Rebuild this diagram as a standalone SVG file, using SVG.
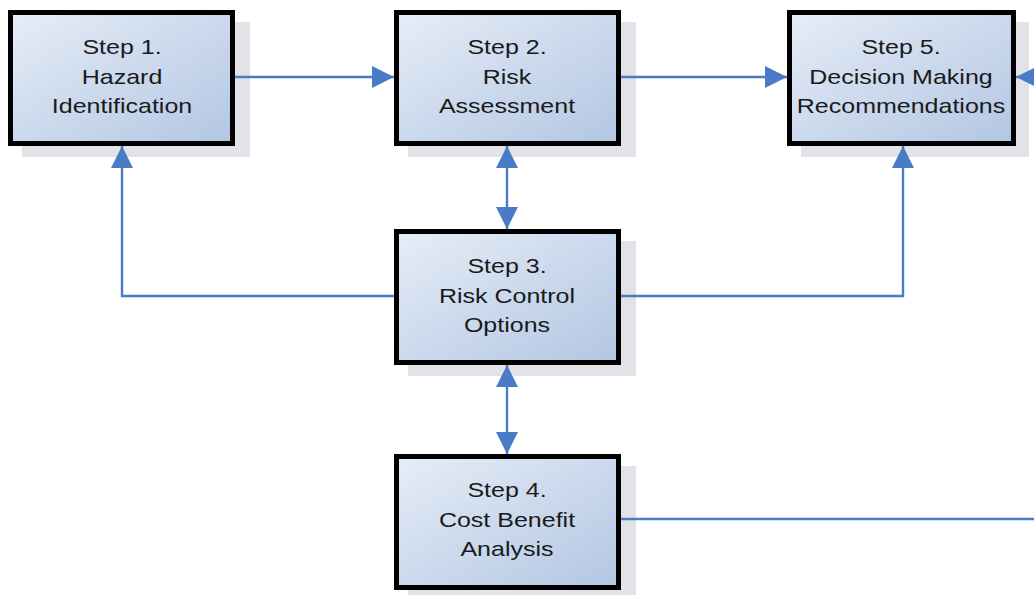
<svg xmlns="http://www.w3.org/2000/svg" width="1034" height="595" viewBox="0 0 1034 595">
<defs>
<linearGradient id="fill" x1="0" y1="0" x2="1" y2="1">
<stop offset="0" stop-color="#e6edf7"/>
<stop offset="1" stop-color="#b2c6e3"/>
</linearGradient>
<marker id="ah" markerUnits="userSpaceOnUse" markerWidth="22" markerHeight="22" refX="22" refY="11" orient="auto-start-reverse" viewBox="0 0 22 22">
<path d="M0,0 L22,11 L0,22 z" fill="#4a7bc6"/>
</marker>
</defs>
<style>
.shadow{fill:#e1e3e8}
.box{fill:url(#fill);stroke:#000;stroke-width:5}
.lbl{font-family:"Liberation Sans",Arial,sans-serif;font-size:20.5px;fill:#1a1a1a;text-anchor:middle}
.con{fill:none;stroke:#4a7bc6;stroke-width:2.4}
</style>
<rect width="1034" height="595" fill="#fff"/>
<g id="step1">
<rect class="shadow" x="22" y="22" width="228" height="135"/>
<rect class="box" x="10.5" y="12.5" width="222" height="131"/>
<g transform="translate(122 0) scale(1.22 1)">
<text class="lbl" x="0" y="54.5">Step 1.</text>
<text class="lbl" x="0" y="84">Hazard</text>
<text class="lbl" x="0" y="113">Identification</text>
</g>
</g>
<g id="step2">
<rect class="shadow" x="408" y="22" width="228" height="135"/>
<rect class="box" x="396.5" y="12.5" width="222" height="131"/>
<g transform="translate(507 0) scale(1.22 1)">
<text class="lbl" x="0" y="54.5">Step 2.</text>
<text class="lbl" x="0" y="84">Risk</text>
<text class="lbl" x="0" y="113">Assessment</text>
</g>
</g>
<g id="step5">
<rect class="shadow" x="801" y="22" width="228" height="135"/>
<rect class="box" x="789.5" y="12.5" width="224" height="131"/>
<g transform="translate(901 0) scale(1.22 1)">
<text class="lbl" x="0" y="54.5">Step 5.</text>
<text class="lbl" x="0" y="84">Decision Making</text>
<text class="lbl" x="0" y="113">Recommendations</text>
</g>
</g>
<g id="step3">
<rect class="shadow" x="408" y="241" width="228" height="135"/>
<rect class="box" x="396.5" y="231.5" width="222" height="131"/>
<g transform="translate(507 0) scale(1.22 1)">
<text class="lbl" x="0" y="273.5">Step 3.</text>
<text class="lbl" x="0" y="303">Risk Control</text>
<text class="lbl" x="0" y="332">Options</text>
</g>
</g>
<g id="step4">
<rect class="shadow" x="408" y="466" width="228" height="135"/>
<rect class="box" x="396.5" y="456.5" width="222" height="131"/>
<g transform="translate(507 0) scale(1.22 1)">
<text class="lbl" x="0" y="497.5">Step 4.</text>
<text class="lbl" x="0" y="527">Cost Benefit</text>
<text class="lbl" x="0" y="556">Analysis</text>
</g>
</g>
<g id="connectors">
<line class="con" x1="235" y1="77" x2="394" y2="77" marker-end="url(#ah)"/>
<line class="con" x1="621" y1="77" x2="787" y2="77" marker-end="url(#ah)"/>
<line class="con" x1="1040" y1="77" x2="1016" y2="77" marker-end="url(#ah)"/>
<line class="con" x1="507" y1="146" x2="507" y2="229" marker-start="url(#ah)" marker-end="url(#ah)"/>
<polyline class="con" points="394,296 122,296 122,146" marker-end="url(#ah)"/>
<polyline class="con" points="621,296 903,296 903,146" marker-end="url(#ah)"/>
<line class="con" x1="507" y1="365" x2="507" y2="454" marker-start="url(#ah)" marker-end="url(#ah)"/>
<line class="con" x1="621" y1="519" x2="1034" y2="519"/>
</g>
</svg>
